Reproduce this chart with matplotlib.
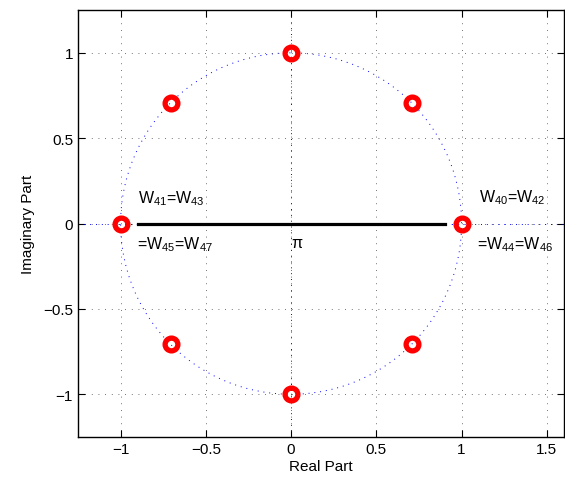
import matplotlib.pyplot as plt
from matplotlib.patches import Circle

plt.rcParams['font.family'] = ['Liberation Sans', 'DejaVu Sans']
plt.rcParams['mathtext.fontset'] = 'custom'
plt.rcParams['mathtext.rm'] = 'Liberation Sans'
plt.rcParams['mathtext.default'] = 'regular'

# 8th roots of unity (W_8^k)
root_re = [1.0, 0.7071, 0.0, -0.7071, -1.0, -0.7071, 0.0, 0.7071]
root_im = [0.0, 0.7071, 1.0, 0.7071, 0.0, -0.7071, -1.0, -0.7071]

# thick segment on the real axis
seg_x = [-0.9, 0.9]
seg_y = [0.0, 0.0]

xticks = [-1, -0.5, 0, 0.5, 1, 1.5]
yticks = [-1, -0.5, 0, 0.5, 1]

fig = plt.figure(figsize=(5.65, 4.85), dpi=100)
ax = fig.add_axes([0.138, 0.097, 0.860, 0.880])

xlim = (-1.25, 1.6)
ylim = (-1.25, 1.25)

# dotted unit circle and axes (zplane style)
dot = (0, (1, 5))
ax.add_patch(Circle((0, 0), 1, fill=False, edgecolor='blue',
                    linestyle=dot, linewidth=0.7))
ax.plot(xlim, [0, 0], color='blue', linestyle=dot, linewidth=0.7)
ax.plot([0, 0], ylim, color='blue', linestyle=dot, linewidth=0.7)

ax.plot(seg_x, seg_y, color='black', linewidth=2.3)

ax.plot(root_re, root_im, 'o', markersize=9.2, markerfacecolor='none',
        markeredgecolor='red', markeredgewidth=3.8, zorder=5)

fs = 11.5
ax.text(-0.9, 0.15, 'W$_{41}$=W$_{43}$', fontsize=fs, va='center')
ax.text(-0.905, -0.12, '=W$_{45}$=W$_{47}$', fontsize=fs, va='center')
ax.text(1.1, 0.16, 'W$_{40}$=W$_{42}$', fontsize=fs, va='center')
ax.text(1.09, -0.12, '=W$_{44}$=W$_{46}$', fontsize=fs, va='center')
ax.text(0.0, -0.11, r'$\pi$', fontsize=fs, va='center', ha='left')

ax.set_xlim(xlim)
ax.set_ylim(ylim)
ax.set_xticks(xticks)
ax.set_yticks(yticks)
ax.set_xticklabels(['\u22121', '\u22120.5', '0', '0.5', '1', '1.5'])
ax.set_yticklabels(['\u22121', '\u22120.5', '0', '0.5', '1'])
ax.tick_params(direction='in', length=5, labelsize=11, top=True, right=True)
ax.grid(True, color='#444444', linestyle=(0, (1, 7)), linewidth=0.6)
for s in ax.spines.values():
    s.set_linewidth(1.0)

ax.set_xlabel('Real Part', fontsize=11, labelpad=2)
ax.set_ylabel('Imaginary Part', fontsize=11, labelpad=6)

fig.savefig('out.png', dpi=100)
